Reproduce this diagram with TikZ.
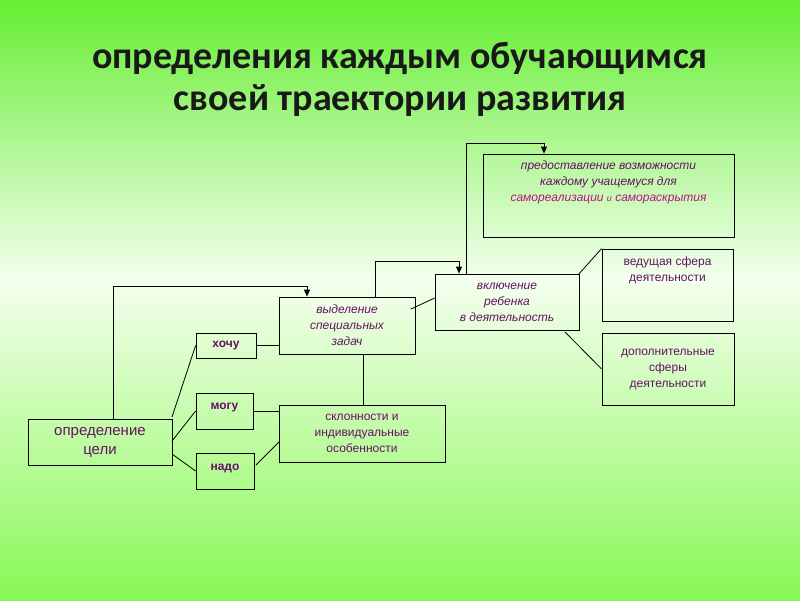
\documentclass[tikz,border=0pt]{standalone}
\usepackage{fontspec}
\setmainfont{Liberation Sans}
\newfontfamily\titlefont{Carlito}
\usetikzlibrary{arrows.meta}
\definecolor{gtop}{HTML}{66EE33}
\definecolor{gmid}{HTML}{F4FFEE}
\definecolor{gbot}{HTML}{88F855}
\definecolor{pur}{HTML}{661166}
\definecolor{mag}{HTML}{BB1188}
\tikzset{
 box/.style={draw,line width=0.8pt,text=pur,font=\fontsize{12}{16}\selectfont,align=center,inner sep=0},
 conn/.style={line width=0.8pt},
 arr/.style={line width=0.8pt,-{Triangle[length=7pt,width=6pt]}}
}
\begin{document}
\begin{tikzpicture}[x=1pt,y=-1pt]
\useasboundingbox (0,0) rectangle (800,600);
\shade[top color=gtop,bottom color=gmid] (0,0) rectangle (800,280);
\shade[top color=gmid,bottom color=gbot] (0,280) rectangle (800,600);
\node[font=\titlefont\bfseries\fontsize{38}{42}\selectfont,align=center,text=black!90] (title) at (400,79) {определения каждым обучающимся\\своей траектории развития};
\node[box,minimum width=144,minimum height=46,font=\fontsize{15}{19}\selectfont] (opr) at (100,442) {определение\\цели};
\node[box,minimum width=60,minimum height=25,font=\bfseries\fontsize{12}{14}\selectfont] (hoch) at (226,345.5) {хочу};
\node[box,minimum width=57,minimum height=36,font=\bfseries\fontsize{12}{14}\selectfont] (mog) at (224.5,411) {\raisebox{9pt}{могу}};
\node[box,minimum width=58,minimum height=36,font=\bfseries\fontsize{12}{14}\selectfont] (nad) at (225,471) {\raisebox{8pt}{надо}};
\node[box,minimum width=136,minimum height=57,font=\itshape\fontsize{12}{16}\selectfont] (vyd) at (347,325.5) {выделение\\специальных\\задач};
\node[box,minimum width=166,minimum height=57,font=\fontsize{12}{16}\selectfont] (skl) at (362,433.5) {склонности  и\\индивидуальные\\особенности};
\node[box,minimum width=144,minimum height=56,font=\itshape\fontsize{12}{16}\selectfont] (vkl) at (507,302) {включение\\ребенка\\в деятельность};
\node[box,minimum width=251,minimum height=83] (pred) at (608.5,195.5) {};
\node[text=pur,font=\itshape\fontsize{12}{16}\selectfont,align=center,anchor=north] (predt) at (608.5,157) {предоставление  возможности\\каждому  учащемуся  для\\\textcolor{mag}{самореализации  {\fontsize{9}{10}\selectfont и} самораскрытия}};
\node[box,minimum width=131,minimum height=72] (ved) at (667.5,285) {};
\node[text=pur,font=\fontsize{12}{16}\selectfont,align=center,anchor=north] (vedt) at (667.5,253) {ведущая сфера\\деятельности};
\node[box,minimum width=132,minimum height=72,font=\fontsize{12}{16}\selectfont] (dop) at (668,369) {дополнительные\\сферы\\деятельности};
% connectors
\coordinate (c1) at (113,286); \coordinate (c2) at (307,286);
\draw[arr] (opr.north -| c1) -- (c1) -- (c2) -- (vyd.north -| c2);
\draw[conn] (172,417) -- (hoch.west);
\draw[conn] (172,441) -- (mog.west);
\draw[conn] (172,454) -- (nad.west);
\draw[conn] (hoch.east) -- (hoch.east -| vyd.west);
\draw[conn] (mog.east) -- (mog.east -| skl.west);
\draw[conn] (256,465) -- (279,442);
\coordinate (c3) at (363,0);
\draw[conn] (vyd.south -| c3) -- (skl.north -| c3);
\coordinate (c4) at (375,261); \coordinate (c5) at (459,261);
\draw[arr] (vyd.north -| c4) -- (c4) -- (c5) -- (vkl.north -| c5);
\draw[conn] (411,309) -- (vkl.west |- 0,298);
\coordinate (c6) at (466,143); \coordinate (c7) at (544,143);
\draw[arr] (vkl.north -| c6) -- (c6) -- (c7) -- (pred.north -| c7);
\draw[conn] (578,275) -- (ved.north west);
\draw[conn] (565,332) -- (dop.west);
\end{tikzpicture}
\end{document}
